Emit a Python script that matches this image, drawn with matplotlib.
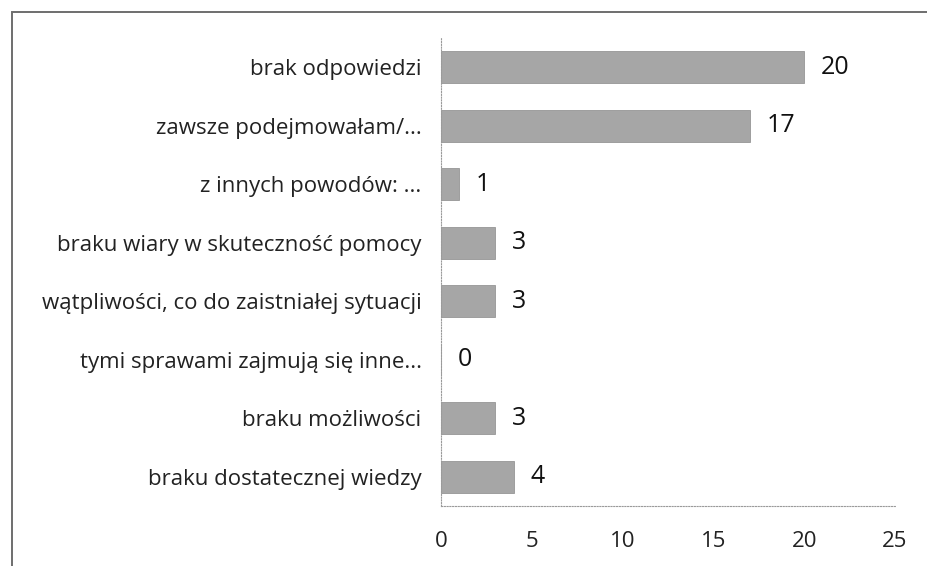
import matplotlib.pyplot as plt
from matplotlib.patches import Rectangle

# categories listed top to bottom
labels = [
    "brak odpowiedzi",
    "zawsze podejmowałam/...",
    "z innych powodów: ...",
    "braku wiary w skuteczność pomocy",
    "wątpliwości, co do zaistniałej sytuacji",
    "tymi sprawami zajmują się inne...",
    "braku możliwości",
    "braku dostatecznej wiedzy",
]
counts = [20, 17, 1, 3, 3, 0, 3, 4]
xticks = [0, 5, 10, 15, 20, 25]

plt.rcParams['font.family'] = ['Open Sans', 'DejaVu Sans']

fig = plt.figure(figsize=(9.27, 5.66), dpi=100)
ax = fig.add_axes([441 / 927, 1 - 506 / 566, 454 / 927, 468 / 566])

pos = list(range(len(labels)))
ax.barh(pos, counts, height=0.55, color='#a6a6a6', edgecolor='#969696', linewidth=0.6)

for y, v in zip(pos, counts):
    ax.annotate(str(v), (v, y), xytext=(12, 0), textcoords='offset points',
                va='center', ha='left', fontsize=18, color='#111111')

ax.set_xlim(0, 25)
ax.set_ylim(len(labels) - 0.5, -0.5)
ax.set_yticks(pos)
ax.set_yticklabels(labels, fontsize=16, color='#222222')
ax.set_xticks(xticks)
ax.set_xticklabels([str(t) for t in xticks], fontsize=16, color='#222222')
ax.tick_params(axis='y', length=0, pad=14)
ax.tick_params(axis='x', length=0, pad=18)

for side in ['top', 'right']:
    ax.spines[side].set_visible(False)
for side in ['left', 'bottom']:
    ax.spines[side].set_linestyle((0, (1, 1.5)))
    ax.spines[side].set_color('#9a9a9a')
    ax.spines[side].set_linewidth(0.8)

# outer frame around the chart
fig.patches.append(Rectangle((12 / 927, -0.05), 1.0, 1 - 12 / 566 + 0.05,
                             transform=fig.transFigure, fill=False,
                             edgecolor='#6e6e6e', linewidth=1.4))

fig.savefig('out.png', dpi=100)
